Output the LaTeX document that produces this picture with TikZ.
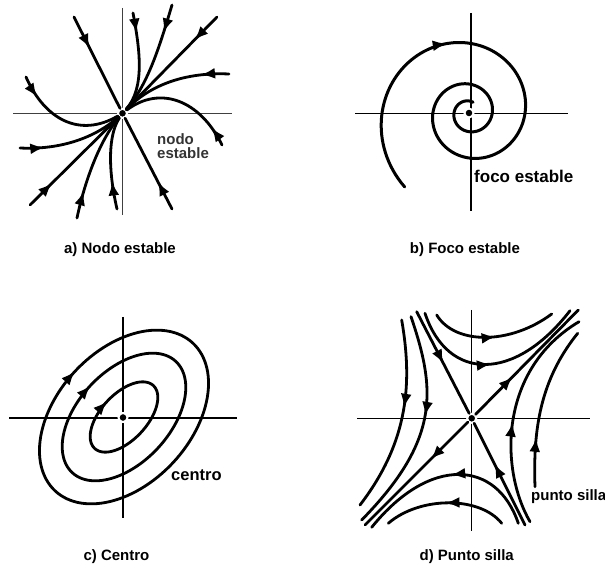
\documentclass[tikz,border=0pt]{standalone}
\usepackage{fontspec}
\setmainfont{Liberation Sans}
\usetikzlibrary{arrows.meta,decorations.markings}

\tikzset{punta/.tip={Latex[length=14pt,width=11pt]}}

\begin{document}
\begin{tikzpicture}[
        x=1pt, y=-1pt,
        eje/.style={line width=1.4pt},
        orbita/.style={line width=2.8pt, line cap=round},
        centro/.style={circle, fill=black, draw=white, line width=2pt, minimum size=9pt, inner sep=0pt},
        flecha/.style={postaction={decorate}, decoration={markings, mark=at position #1 with {\arrow{punta}}}},
        leyenda/.style={font=\bfseries\fontsize{15}{15}\selectfont},
        etiqueta/.style={anchor=west, align=left, inner sep=0pt}
    ]

        \useasboundingbox (0,0) rectangle (605,569);

        % ==================================================
        % a) NODO ESTABLE
        % ==================================================

        \draw[eje, line width=1.2pt, black!75] (122.3,8) -- (122.3,215);
        \draw[eje, line width=1.2pt, black!75] (13,113.3) -- (232,113.3);
        \node[centro] (Oa) at (122.5,113.3) {};

        % Rectas
        \draw[orbita, flecha=0.34] (74,17) -- (Oa);
        \draw[orbita, flecha=0.3] (172,209) -- (Oa);
        \draw[orbita, flecha=0.25] (217,17) -- (Oa);
        \draw[orbita, flecha=0.25] (30,205) -- (Oa);

        % Curvas arriba a la derecha
        \draw[orbita, flecha=0.2] (133,13) .. controls (140,50) and (145,88) .. (Oa);
        \draw[orbita, flecha=0.25] (172,5) .. controls (160,45) and (148,85) .. (Oa);
        \draw[orbita, flecha=0.25] (229,74) .. controls (185,72) and (150,85) .. (Oa);
        \draw[orbita, flecha=0.17] (222,145) .. controls (200,100) and (160,85) .. (Oa);

        % Curvas abajo a la izquierda
        \draw[orbita, flecha=0.2] (26,77) .. controls (45,120) and (80,138) .. (Oa);
        \draw[orbita, flecha=0.23] (20,148) .. controls (60,150) and (95,138) .. (Oa);
        \draw[orbita, flecha=0.25] (77,218) .. controls (85,180) and (100,140) .. (Oa);
        \draw[orbita, flecha=0.3] (117,209) .. controls (108,170) and (108,135) .. (Oa);

        \node[etiqueta, text=black!80, font=\bfseries\fontsize{15}{14}\selectfont] (nodo) at (157,146) {nodo\\estable};
        \node[leyenda] (capA) at (120,250) {a) Nodo estable};

        % ==================================================
        % b) FOCO ESTABLE
        % ==================================================

        \draw[eje] (471,13) -- (471,211);
        \draw[eje] (355,113.3) -- (568,113.3);

        % Espiral
        \draw[orbita, line width=3pt, flecha=0.29] plot[domain=0:880, samples=300]
            ({469+98*exp(-0.00244*\x)*cos(229-\x)}, {113-98*exp(-0.00244*\x)*sin(229-\x)});
        \node[centro] (Ob) at (469,113) {};

        \node[etiqueta, font=\bfseries\fontsize{17}{17}\selectfont] (foco) at (474,176) {foco estable};
        \node[leyenda] (capB) at (465,250) {b) Foco estable};

        % ==================================================
        % c) CENTRO
        % ==================================================

        \draw[eje] (123,317) -- (123,518);
        \draw[eje] (9,418) -- (237,418);

        % Elipses
        \foreach \ra/\rb in {101/67, 76/46, 43/23}
            \draw[orbita, flecha=0.75] plot[domain=360:0, samples=121]
                ({124+\ra*cos(\x)*cos(47)-\rb*sin(\x)*sin(47)}, {417-\ra*cos(\x)*sin(47)-\rb*sin(\x)*cos(47)}) -- cycle;
        \node[centro] (Oc) at (123,417.5) {};

        \node[etiqueta, font=\bfseries\fontsize{16.5}{16.5}\selectfont] (cen) at (171,475) {centro};
        \node[leyenda] (capC) at (116.5,557) {c) Centro};

        % ==================================================
        % d) PUNTO SILLA
        % ==================================================

        \draw[eje] (471.7,310) -- (471.7,531);
        \draw[eje] (357,418.3) -- (590,418.3);
        \node[centro] (Od) at (471.7,418.3) {};

        % Separatrices
        \draw[orbita, flecha=0.51] (416.7,311.7) -- (Od);
        \draw[orbita, flecha=0.6] (525,525) -- (Od);
        \draw[orbita, flecha=0.36] (Od) -- (578.3,310);
        \draw[orbita, flecha=0.36] (Od) -- (365,525);

        % Hiperbolas
        \draw[orbita, flecha=0.52] (436.7,315) .. controls (455,345) and (510,345) .. (551.7,314);
        \draw[orbita, flecha=0.48] (425,313.3) .. controls (448,382) and (515,382) .. (570,310.7);
        \draw[orbita, flecha=0.45] (401.7,320) .. controls (412,380) and (410,440) .. (360,505);
        \draw[orbita, flecha=0.45] (411,316.7) .. controls (436,390) and (440,440) .. (361.7,520);
        \draw[orbita, flecha=0.45] (530,521.7) .. controls (500,470) and (498,370) .. (579,321.7);
        \draw[orbita, flecha=0.3] (535,486.7) .. controls (533,430) and (540,380) .. (577.7,333.3);
        \draw[orbita, flecha=0.48] (518.3,523.3) .. controls (497,460) and (430,455) .. (371.7,527.3);
        \draw[orbita, flecha=0.5] (501.7,523.3) .. controls (480,496) and (420,496) .. (388.3,523.3);

        \node[etiqueta, font=\bfseries\fontsize{15}{15}\selectfont] (silla) at (531,496.5) {punto silla};
        \node[leyenda] (capD) at (466.7,557) {d) Punto silla};
    \end{tikzpicture}
\end{document}
